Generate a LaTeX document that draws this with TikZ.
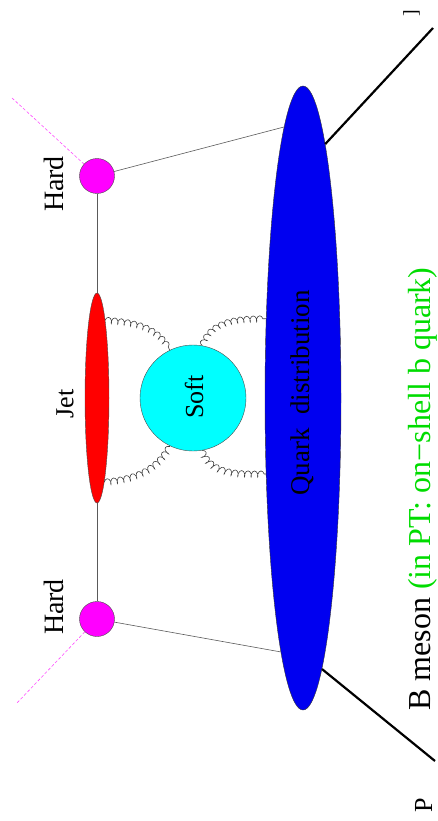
\documentclass[tikz,border=0pt]{standalone}
\usepackage{fontspec}
\setmainfont{Liberation Serif}
\usepackage{xcolor}
\usetikzlibrary{shapes.geometric,decorations.pathmorphing}

\definecolor{ptgreen}{RGB}{0,220,0}
\definecolor{quarkblue}{RGB}{0,0,240}
\definecolor{hardpink}{RGB}{255,0,255}
\definecolor{softcyan}{RGB}{0,255,255}
\definecolor{jetred}{RGB}{255,0,0}
\definecolor{legline}{RGB}{90,90,90}

\begin{document}
\begin{tikzpicture}[x=1pt,y=-1pt,
    hardvertex/.style={circle,draw=black!70,fill=hardpink,minimum size=35pt,inner sep=0pt},
    jetblob/.style={ellipse,draw=black!70,fill=jetred,minimum width=24pt,minimum height=210pt,inner sep=0pt},
    softblob/.style={circle,draw=black!70,fill=softcyan,minimum size=106pt,inner sep=0pt},
    quarkblob/.style={ellipse,draw=black!80,fill=quarkblue,minimum width=76pt,minimum height=624pt,inner sep=0pt},
    lbl/.style={rotate=90,inner sep=0pt},
    prop/.style={draw=legline,line width=0.6pt},
    leg/.style={draw=black,line width=2.2pt},
    ext/.style={draw=hardpink!70,line width=0.6pt,dash pattern=on 3pt off 2pt},
    gluon/.style={draw=black!75,line width=0.6pt,decorate,
      decoration={coil,amplitude=3pt,segment length=6.5pt}}]
      \useasboundingbox (0,0) rectangle (438,821);

      % Blobs
      \node[hardvertex] (hardtop) at (97,176) {};
      \node[hardvertex] (hardbot) at (97,619) {};
      \draw[prop] (hardtop) -- (hardbot);
      \node[jetblob] (jet) at (97,398) {};
      \node[softblob] (soft) at (193,398) {};
      \node[quarkblob] (quark) at (303,398) {};

      % External lines
      \coordinate (ptop) at (433,28);
      \coordinate (pbot) at (435,761);
      \coordinate (etop) at (12,98);
      \coordinate (ebot) at (16,704);
      \draw[leg] (quark.85.8) -- (ptop);
      \draw[leg] (quark.274.6) -- (pbot);
      \draw[ext] (etop) -- (hardtop);
      \draw[ext] (hardbot) -- (ebot);

      % Propagators to the quark distribution
      \draw[prop] (hardtop) -- (quark.94.7);
      \draw[prop] (hardbot) -- (quark.265.3);

      % Gluons
      \draw[gluon] (jet.84.7) to[out=-5,in=118] (soft.116);
      \draw[gluon] (soft.80) to[out=70,in=180] (quark.115.7);
      \draw[gluon] (jet.275.3) to[out=5,in=242] (soft.244);
      \draw[gluon] (soft.280) to[out=-70,in=180] (quark.244.3);

      % Labels
      \node[lbl,font=\fontsize{28}{30}\selectfont] (hardtoplbl) at (54,184) {Hard};
      \node[lbl,font=\fontsize{28}{30}\selectfont] (hardbotlbl) at (54,607) {Hard};
      \node[lbl,font=\fontsize{26}{30}\selectfont] (jetlbl) at (65,404) {Jet};
      \node[lbl,font=\fontsize{26}{30}\selectfont] (softlbl) at (194,397) {Soft};
      \node[lbl,font=\fontsize{27}{30}\selectfont] (quarklbl) at (302,393) {Quark\ \ distribution};
      \node[lbl,anchor=base,font=\fontsize{32}{36}\selectfont] (mesonlbl) at (430,489)
        {B meson \textcolor{ptgreen}{(in PT: on−shell b quark)}};
      \node[lbl,anchor=base,font=\fontsize{26}{30}\selectfont] (plbl) at (432,805) {P};
      \node[lbl,anchor=base,font=\fontsize{20}{24}\selectfont] (bracket) at (417,13) {]};
    \end{tikzpicture}
\end{document}
